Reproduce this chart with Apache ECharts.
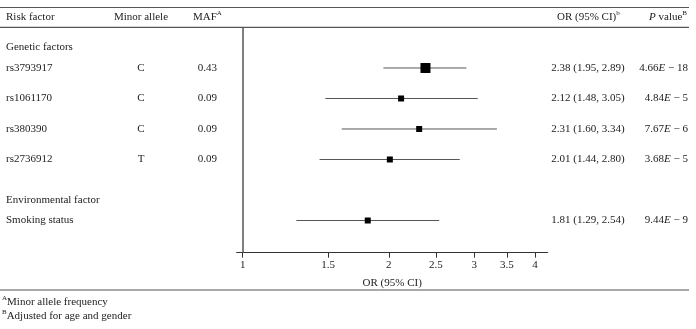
<!DOCTYPE html>
<html>
<head>
<meta charset="utf-8">
<script src="https://cdn.jsdelivr.net/npm/echarts@6/dist/echarts.min.js"></script>
<style>
html, body { margin: 0; padding: 0; background: #fff; }
#main { width: 696px; height: 329px; }
</style>
</head>
<body>
<div id="main"></div>
<script>
// table data
var groups = ['Genetic factors', 'Environmental factor'];
var groupSize = [4, 1];
var factors = ['rs3793917', 'rs1061170', 'rs380390', 'rs2736912', 'Smoking status'];
var minorAllele = ['C', 'C', 'C', 'T', ''];
var maf = ['0.43', '0.09', '0.09', '0.09', ''];
var orValues = [2.38, 2.12, 2.31, 2.01, 1.81];
var ciLow = [1.95, 1.48, 1.60, 1.44, 1.29];
var ciHigh = [2.89, 3.05, 3.34, 2.80, 2.54];
var pMantissa = ['4.66', '4.84', '7.67', '3.68', '9.44'];
var pExponent = [18, 5, 6, 5, 9];
var xTicks = [1, 1.5, 2, 2.5, 3, 3.5, 4];

// layout / style
var markerSize = [10, 6, 6, 6, 6];
var FONT = '"Liberation Serif", "DejaVu Serif", serif';
var TXT = '#222';
var yMin = -1.334, yMax = 6.056;
var headerOffset = 0.67;

// row positions: one slot per factor, a blank slot between groups
var rowPos = [], headerPos = [];
var pos = 0;
for (var g = 0; g < groups.length; g++) {
  headerPos.push(pos - headerOffset);
  for (var m = 0; m < groupSize[g]; m++) { rowPos.push(pos); pos++; }
  pos++;
}

function nearest(list, v) {
  var best = 0;
  for (var i = 1; i < list.length; i++) {
    if (Math.abs(list[i] - v) < Math.abs(list[best] - v)) best = i;
  }
  return best;
}
function rowText(arr) {
  return function (v) { return arr[nearest(rowPos, v)]; };
}

function colAxis(position, margin, align, values, formatter, extra) {
  var ax = {
    type: 'value', position: position, inverse: true, min: yMin, max: yMax,
    axisLine: { show: false }, axisTick: { show: false }, splitLine: { show: false },
    axisLabel: {
      customValues: values, margin: margin, align: align,
      fontFamily: FONT, fontSize: 11, color: TXT, formatter: formatter
    }
  };
  if (extra) ax.axisLabel.rich = extra;
  return ax;
}

var leftFirst = rowPos.concat(headerPos);
var allFirst = factors.concat(groups);

var orText = factors.map(function (f, i) {
  return orValues[i].toFixed(2) + ' (' + ciLow[i].toFixed(2) + ', ' + ciHigh[i].toFixed(2) + ')';
});
var pText = factors.map(function (f, i) {
  return '{n|' + pMantissa[i] + '}{i|E}{n| \u2212 ' + pExponent[i] + '}';
});

var rich = {
  n: { fontFamily: FONT, fontSize: 11, color: TXT, lineHeight: 14 },
  i: { fontFamily: FONT, fontSize: 11, color: TXT, fontStyle: 'italic', lineHeight: 14 },
  s: { fontFamily: FONT, fontSize: 7, color: TXT, verticalAlign: 'top', lineHeight: 14 }
};

function renderItem(params, api) {
  var i = params.dataIndex;
  var y = api.value(3);
  var lo = api.coord([api.value(1), y]);
  var hi = api.coord([api.value(2), y]);
  var c = api.coord([api.value(0), y]);
  var s = markerSize[i];
  return {
    type: 'group',
    children: [
      { type: 'line', shape: { x1: lo[0], y1: lo[1], x2: hi[0], y2: hi[1] }, style: { stroke: '#555', lineWidth: 1 } },
      { type: 'rect', shape: { x: c[0] - s / 2, y: c[1] - s / 2, width: s, height: s }, style: { fill: '#000' } }
    ]
  };
}

function hline(y) {
  return { type: 'line', shape: { x1: 0, y1: y, x2: 689, y2: y }, style: { stroke: '#555', lineWidth: 1.2 } };
}
function gtext(x, y, text, align) {
  return {
    type: 'text', x: x, y: y,
    style: { text: text, rich: rich, align: align, verticalAlign: 'middle', fontFamily: FONT, fontSize: 11, fill: TXT }
  };
}

var chart = echarts.init(document.getElementById('main'));
var option = {
  animation: false,
  grid: { left: 236.7, right: 148.3, top: 27.3, bottom: 76.3, containLabel: false },
  xAxis: {
    type: 'log', logBase: 10, min: 0.972, max: 4.25,
    name: 'OR (95% CI)', nameLocation: 'middle', nameGap: 25,
    nameTextStyle: { fontFamily: FONT, fontSize: 11, color: TXT },
    axisLine: { onZero: false, lineStyle: { color: '#333', width: 1.2 } },
    axisTick: { customValues: xTicks, inside: false, length: 5, lineStyle: { color: '#333' } },
    minorTick: { show: false },
    splitLine: { show: false },
    axisLabel: {
      customValues: xTicks, margin: 7, fontFamily: FONT, fontSize: 11, color: TXT,
      formatter: function (v) { return String(Math.round(v * 10) / 10); }
    }
  },
  yAxis: [
    colAxis('left', 230.7, 'left', leftFirst, function (v) { return allFirst[nearest(leftFirst, v)]; }),
    colAxis('left', 95.7, 'center', rowPos, rowText(minorAllele)),
    colAxis('left', 19.7, 'right', rowPos, rowText(maf)),
    colAxis('right', 40.3, 'center', rowPos, rowText(orText)),
    colAxis('right', 140.3, 'right', rowPos, function (v) { return pText[nearest(rowPos, v)]; }, rich)
  ],
  graphic: [
    hline(7.5), hline(27.3), hline(290),
    gtext(6, 17, 'Risk factor', 'left'),
    gtext(141, 17, 'Minor allele', 'center'),
    gtext(193, 17, '{n|MAF}{s|A}', 'left'),
    gtext(557, 17, '{n|OR (95% CI)}{s|b}', 'left'),
    gtext(687, 17, '{i|P}{n| value}{s|B}', 'right'),
    gtext(2, 302, '{s|A}{n|Minor allele frequency}', 'left'),
    gtext(2, 316, '{s|B}{n|Adjusted for age and gender}', 'left')
  ],
  series: [{
    type: 'custom',
    renderItem: renderItem,
    xAxisIndex: 0, yAxisIndex: 0,
    encode: { x: [0, 1, 2], y: 3 },
    data: factors.map(function (f, i) { return [orValues[i], ciLow[i], ciHigh[i], rowPos[i]]; }),
    markLine: {
      silent: true, symbol: 'none', label: { show: false },
      lineStyle: { color: '#555', width: 1.5, type: 'solid' },
      data: [{ xAxis: 1 }]
    }
  }]
};
chart.setOption(option);
</script>
</body>
</html>
